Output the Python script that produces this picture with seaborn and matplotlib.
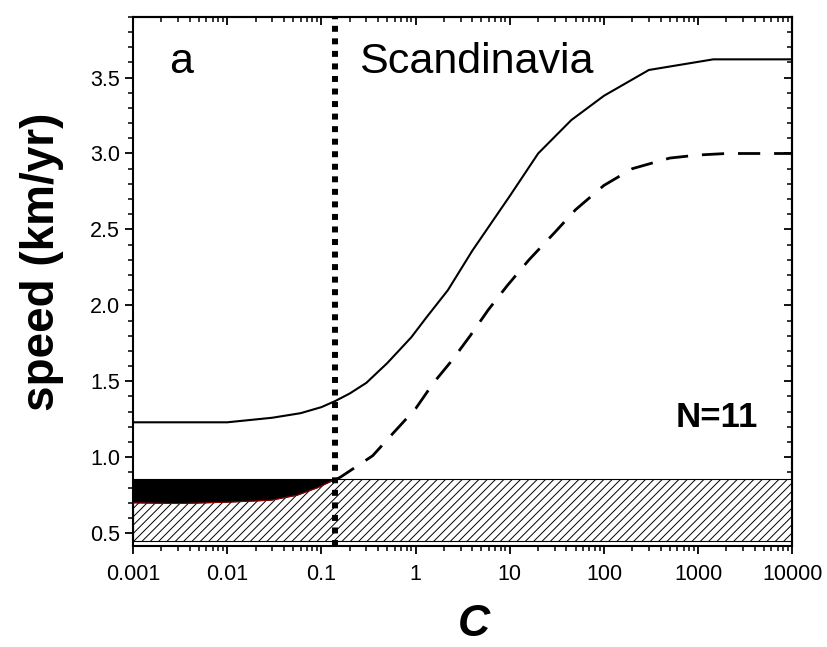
import numpy as np
import pandas as pd
import seaborn as sns
import matplotlib
matplotlib.use("Agg")
from matplotlib import pyplot as plt
from matplotlib.ticker import FixedLocator, NullFormatter, MultipleLocator, LogLocator

# solid curve (upper speed)
c_solid = [0.001, 0.01, 0.03, 0.06, 0.1, 0.14, 0.2, 0.3, 0.5, 0.9, 1.3, 2.2, 4, 10, 20, 45, 100, 300, 1450, 10000]
v_solid = [1.23, 1.23, 1.26, 1.29, 1.33, 1.37, 1.42, 1.49, 1.62, 1.79, 1.92, 2.10, 2.36, 2.72, 3.0, 3.22, 3.38, 3.55, 3.62, 3.62]

# dashed curve (lower speed)
c_dash = [0.14, 0.16, 0.35, 0.58, 1.0, 1.55, 2.45, 3.8, 5.9, 9.4, 16, 30, 50, 100, 200, 500, 1000, 2000, 10000]
v_dash = [0.85, 0.87, 1.01, 1.16, 1.32, 1.49, 1.64, 1.80, 1.97, 2.13, 2.30, 2.48, 2.63, 2.79, 2.90, 2.97, 2.99, 3.0, 3.0]

# black band: lower edge, top at band_top
c_black = [0.001, 0.003, 0.01, 0.029, 0.055, 0.091, 0.13, 0.14]
v_black = [0.70, 0.695, 0.704, 0.717, 0.75, 0.80, 0.845, 0.855]

band_low = 0.45
band_top = 0.855
c_cut = 0.14

x_ticks = [0.001, 0.01, 0.1, 1, 10, 100, 1000, 10000]
x_labels = ["0.001", "0.01", "0.1", "1", "10", "100", "1000", "10000"]
y_ticks = [0.5, 1.0, 1.5, 2.0, 2.5, 3.0, 3.5]

sns.set_style("ticks")
plt.rcParams["font.family"] = ["Liberation Sans", "DejaVu Sans"]
plt.rcParams["text.color"] = "black"
plt.rcParams["axes.labelcolor"] = "black"

fig = plt.figure(figsize=(8.27, 6.47), dpi=100)
ax = fig.add_axes([0.161, 0.156, 0.797, 0.818])

# hatched band over the full range
plt.rcParams["hatch.linewidth"] = 0.7
ax.fill_between([0.001, 10000], band_low, band_top, facecolor="white",
                edgecolor="black", hatch="////", linewidth=0.8, zorder=1)
ax.fill_between(c_black, v_black, band_top, color="black", linewidth=0, zorder=2)
ax.plot(c_black, v_black, color="#8b0000", lw=0.8, zorder=3)

df_s = pd.DataFrame({"c": c_solid, "v": v_solid})
df_d = pd.DataFrame({"c": c_dash, "v": v_dash})
sns.lineplot(data=df_s, x="c", y="v", color="black", lw=1.5, ax=ax, zorder=4)
sns.lineplot(data=df_d, x="c", y="v", color="black", lw=2.0, ax=ax, zorder=4)
ax.lines[-1].set_dashes((8, 5))

ax.axvline(c_cut, color="black", lw=4.3, dashes=(1, 1.1), dash_capstyle="butt", zorder=5)

ax.set_xscale("log")
ax.set_xlim(0.001, 10000)
ax.set_ylim(0.415, 3.9)

ax.xaxis.set_major_locator(FixedLocator(x_ticks))
ax.set_xticklabels(x_labels)
ax.xaxis.set_minor_locator(LogLocator(base=10, subs=np.arange(2, 10), numticks=20))
ax.xaxis.set_minor_formatter(NullFormatter())
ax.yaxis.set_major_locator(FixedLocator(y_ticks))
ax.set_yticklabels([f"{t:.1f}" for t in y_ticks])
ax.yaxis.set_minor_locator(MultipleLocator(0.1))

ax.tick_params(which="major", direction="out", length=6, width=1.3, labelsize=15.5, colors="black")
ax.tick_params(axis="x", which="major", pad=7)
ax.tick_params(which="minor", direction="out", length=3.5, width=1.1, colors="black")
for s in ax.spines.values():
    s.set_linewidth(1.5)
    s.set_color("black")

# top / right ticks pointing inward
top = ax.secondary_xaxis("top")
top.xaxis.set_major_locator(FixedLocator(x_ticks))
top.xaxis.set_minor_locator(LogLocator(base=10, subs=np.arange(2, 10), numticks=20))
top.xaxis.set_major_formatter(NullFormatter())
top.xaxis.set_minor_formatter(NullFormatter())
top.tick_params(which="major", direction="in", length=6, width=1.3, colors="black")
top.tick_params(which="minor", direction="in", length=3.5, width=1.1, colors="black")
right = ax.secondary_yaxis("right")
right.yaxis.set_major_locator(FixedLocator(y_ticks))
right.yaxis.set_minor_locator(MultipleLocator(0.1))
right.yaxis.set_major_formatter(NullFormatter())
right.tick_params(which="major", direction="in", length=6, width=1.3, colors="black")
right.tick_params(which="minor", direction="in", length=3.5, width=1.1, colors="black")
for sec in (top, right):
    for s in sec.spines.values():
        s.set_linewidth(1.5)
        s.set_color("black")

ax.set_xlabel("C", fontsize=32, fontweight="bold", fontstyle="italic", color="black")
ax.xaxis.set_label_coords(0.517, -0.11)
ax.set_ylabel("speed (km/yr)", fontsize=33, fontweight="bold", color="black")
ax.yaxis.set_label_coords(-0.105, 0.537)

ax.text(0.0024, 3.53, "a", fontsize=31, ha="left", va="baseline", color="black")
ax.text(0.25, 3.53, "Scandinavia", fontsize=31, ha="left", va="baseline", color="black")
ax.text(4300, 1.2, "N=11", fontsize=25, fontweight="bold", ha="right", va="baseline", color="black")

fig.savefig("out.png", dpi=100)
